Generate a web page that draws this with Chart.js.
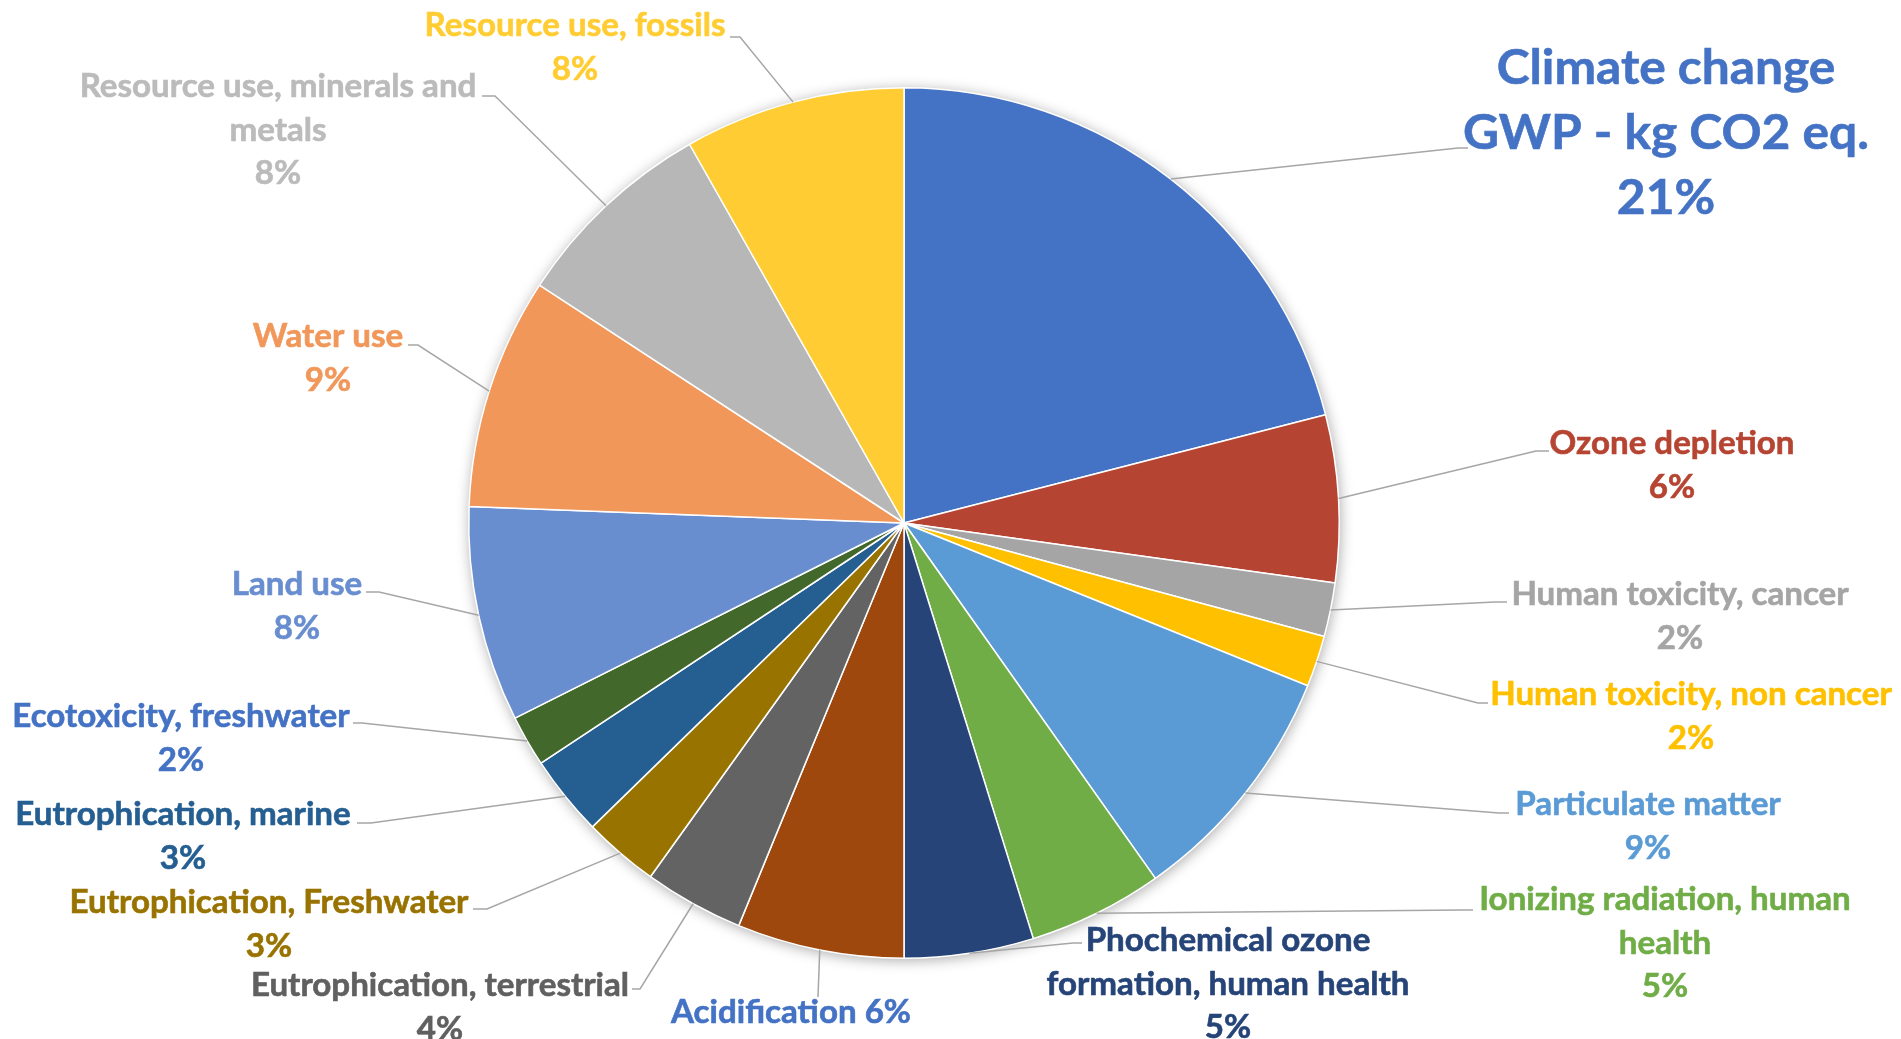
<!DOCTYPE html>
<html>
<head>
<meta charset="utf-8">
<title>Environmental footprint by impact category</title>
<script src="https://cdn.jsdelivr.net/npm/chart.js@4.4.1/dist/chart.umd.min.js"></script>
<style>
  html, body { margin: 0; padding: 0; background: #fff; }
  #wrap { width: 1901px; height: 1039px; position: relative; }
</style>
</head>
<body>
<div id="wrap"><canvas id="impactChart"></canvas></div>
<script>
// impact categories, clockwise from 12 o'clock
const categories = [
    ['Climate change', 'GWP - kg CO2 eq.'],
    'Ozone depletion',
    'Human toxicity, cancer',
    'Human toxicity, non cancer',
    'Particulate matter',
    ['Ionizing radiation, human', 'health'],
    ['Phochemical ozone', 'formation, human health'],
    'Acidification',
    'Eutrophication, terrestrial',
    'Eutrophication, Freshwater',
    'Eutrophication, marine',
    'Ecotoxicity, freshwater',
    'Land use',
    'Water use',
    ['Resource use, minerals and', 'metals'],
    'Resource use, fossils'
];

// share of the single score, %
const shares = [21.0, 6.2, 2.0, 1.9, 9.1, 5.0, 4.8, 6.2, 3.7, 2.8, 3.0, 1.9, 8.0, 8.6, 7.6, 8.2];

const sliceColors = [
    '#4472C4', '#B64432', '#A5A5A5', '#FFC000', '#5B9BD5', '#70AD47',
    '#264478', '#9E480E', '#636363', '#997300', '#255E91', '#43682B',
    '#698ED0', '#F1975A', '#B7B7B7', '#FFCD33'
];

const labelColors = [
    '#4472C4', '#B64432', '#A5A5A5', '#FFC000', '#5B9BD5', '#70AD47',
    '#264478', '#4472C4', '#606060', '#997300', '#255E91', '#4472C4',
    '#698ED0', '#F1975A', '#BBBBBB', '#FFCD33'
];

// where each label sits: text centre x, first baseline y, leader elbow and end
const labelLayout = [
    { x: 1666, y: 84, size: 48, lineH: 65, lead: [1458, 148, 1468, 148] },
    { x: 1672, y: 454, lead: [1536, 451, 1549, 451] },
    { x: 1680, y: 605, lead: [1495, 602, 1507, 602] },
    { x: 1691, y: 705, lead: [1478, 703, 1488, 703] },
    { x: 1648, y: 815, lead: [1499, 813, 1509, 813] },
    { x: 1665, y: 910, lead: [1463, 910, 1473, 910] },
    { x: 1228, y: 951, lead: [1073, 943, 1082, 943] },
    { x: 791, y: 1023, inline: true, lead: [818, 997, 818, 997] },
    { x: 440, y: 996, lead: [640, 989, 632, 989] },
    { x: 269, y: 913, lead: [487, 909, 473, 909] },
    { x: 183, y: 825, lead: [371, 823, 357, 823] },
    { x: 181, y: 727, lead: [362, 723, 353, 723] },
    { x: 297, y: 595, lead: [379, 592, 366, 592] },
    { x: 328, y: 347, lead: [418, 345, 408, 345] },
    { x: 278, y: 97, lead: [495, 96, 482, 96] },
    { x: 575, y: 36, lead: [740, 37, 730, 37] }
];

const FONT_FAMILY = 'Lato, "Open Sans", sans-serif';
const TEXT_STRETCH = 1.035; // Lato runs a little narrower than the office face

function percentText(i) {
    const total = shares.reduce((a, b) => a + b, 0);
    return Math.round(shares[i] / total * 100) + '%';
}

// soft drop shadow behind the whole pie
const pieShadow = {
    id: 'pieShadow',
    beforeDatasetsDraw(chart) {
        const arc = chart.getDatasetMeta(0).data[0];
        if (!arc) return;
        const ctx = chart.ctx;
        ctx.save();
        ctx.shadowColor = 'rgba(0, 0, 0, 0.35)';
        ctx.shadowBlur = 14;
        ctx.shadowOffsetX = 1;
        ctx.shadowOffsetY = 2;
        ctx.fillStyle = '#ffffff';
        ctx.beginPath();
        ctx.arc(arc.x, arc.y, arc.outerRadius, 0, Math.PI * 2);
        ctx.fill();
        ctx.restore();
    }
};

// leader lines plus category / percent labels
const calloutLabels = {
    id: 'calloutLabels',
    afterDatasetsDraw(chart) {
        const ctx = chart.ctx;
        const arcs = chart.getDatasetMeta(0).data;

        ctx.save();
        ctx.strokeStyle = '#A6A6A6';
        ctx.lineWidth = 1.5;
        arcs.forEach((arc, i) => {
            const lay = labelLayout[i];
            const mid = (arc.startAngle + arc.endAngle) / 2;
            const sx = arc.x + Math.cos(mid) * arc.outerRadius;
            const sy = arc.y + Math.sin(mid) * arc.outerRadius;
            const [ex, ey, hx, hy] = lay.lead;
            ctx.beginPath();
            ctx.moveTo(sx, sy);
            ctx.lineTo(ex, ey);
            ctx.lineTo(hx, hy);
            ctx.stroke();
        });
        ctx.restore();

        arcs.forEach((arc, i) => {
            const lay = labelLayout[i];
            const size = lay.size || 32;
            const lineH = lay.lineH || 43.5;
            let lines = [].concat(categories[i]);
            if (lay.inline) {
                lines[lines.length - 1] += ' ' + percentText(i);
            } else {
                lines.push(percentText(i));
            }
            lines.forEach((line, k) => {
                ctx.save();
                ctx.translate(lay.x, lay.y + k * lineH);
                ctx.scale(TEXT_STRETCH, 1);
                ctx.font = `bold ${size}px ${FONT_FAMILY}`;
                ctx.textAlign = 'center';
                ctx.textBaseline = 'alphabetic';
                ctx.fillStyle = labelColors[i];
                ctx.strokeStyle = labelColors[i];
                ctx.lineWidth = 0.6;
                ctx.fillText(line, 0, 0);
                ctx.strokeText(line, 0, 0);
                ctx.restore();
            });
        });
    }
};

new Chart(document.getElementById('impactChart'), {
    type: 'pie',
    data: {
        labels: categories,
        datasets: [{
            data: shares,
            backgroundColor: sliceColors,
            borderColor: '#ffffff',
            borderWidth: 1.5
        }]
    },
    options: {
        responsive: true,
        maintainAspectRatio: false,
        animation: false,
        layout: { padding: { left: 468, right: 561, top: 87, bottom: 80 } },
        plugins: {
            legend: { display: false },
            tooltip: { enabled: false }
        }
    },
    plugins: [pieShadow, calloutLabels]
});
</script>
</body>
</html>
